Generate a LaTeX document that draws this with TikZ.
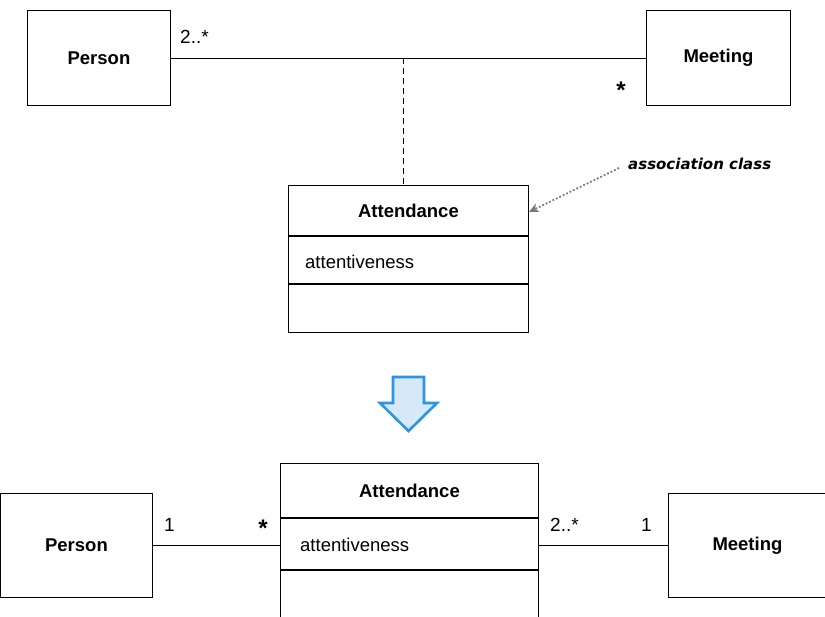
\documentclass[tikz,border=0pt]{standalone}
\usepackage{fontspec}
\setmainfont{Liberation Sans}
\newfontfamily\notefont{DejaVu Sans}
\usetikzlibrary{arrows.meta}
\definecolor{arrowblue}{HTML}{2B95E3}
\definecolor{arrowfill}{HTML}{D6E9F8}
\definecolor{notegray}{HTML}{7A7A7A}
\begin{document}
\begin{tikzpicture}[x=1pt,y=-1pt,
  every node/.style={font=\fontsize{18.5}{21}\selectfont},
  classbox/.style={draw, line width=0.9pt, anchor=north west, inner sep=0pt},
  cname/.style={font=\fontsize{18.5}{21}\selectfont\bfseries},
  compart/.style={draw, line width=0.9pt, anchor=north west, inner sep=0pt},
  mult/.style={font=\fontsize{19}{21}\selectfont, inner sep=0pt},
  star/.style={font=\fontsize{24}{24}\selectfont\bfseries, inner sep=0pt},
  assoc/.style={line width=0.8pt},
  note/.style={font=\notefont\fontsize{15}{17}\selectfont\itshape\bfseries, inner sep=0pt}
]
\clip (0,0) rectangle (825,617);
\fill[white] (0,0) rectangle (825,617);

% ---------- association class form ----------
\node[classbox, minimum width=143pt, minimum height=95pt, cname] (p1) at (27,10) {Person};
\node[classbox, minimum width=144pt, minimum height=95pt, cname] (m1) at (646,10) {Meeting};
\draw[assoc] (p1.east) -- (m1.west);
\coordinate (mid1) at (403,58);

\node[compart, minimum width=240pt, minimum height=50pt, cname] (a1h) at (288,185) {Attendance};
\node[compart, minimum width=240pt, minimum height=47pt] (a1a) at (a1h.south west) {};
\node[compart, minimum width=240pt, minimum height=48pt] (a1o) at (a1a.south west) {};
\node[anchor=west, inner sep=0pt] (a1t) at (305,262) {attentiveness};
\draw[assoc, dash pattern=on 6pt off 4pt] (mid1) -- (mid1 |- a1h.north);

\node[mult, anchor=base west] (p1m) at (180,44) {2..*};
\node[star, anchor=center] (m1m) at (621,90) {*};

% note pointing at the association class
\node[note, anchor=west] (nt) at (628,164) {association class};
\coordinate (ntend) at (619,168);
\draw[notegray, line width=1.8pt, dash pattern=on 1.8pt off 2pt,
  -{Stealth[length=10pt,width=9pt]}] (ntend) -- (a1h.east |- 0,212);

% ---------- transformation arrow ----------
\draw[arrowblue, fill=arrowfill, line width=2.6pt, line join=miter]
  (393,377) -- (424,377) -- (424,403) -- (437,403) -- (408.5,431)
  -- (380,403) -- (393,403) -- cycle;

% ---------- promoted class form ----------
\node[classbox, minimum width=152pt, minimum height=104pt, cname] (p2) at (0,493) {Person};
\node[classbox, minimum width=158pt, minimum height=104pt, cname] (m2) at (668,493) {Meeting};

\node[compart, minimum width=258pt, minimum height=54pt, cname] (a2h) at (280,463) {Attendance};
\node[compart, minimum width=258pt, minimum height=51pt] (a2a) at (a2h.south west) {};
\node[compart, minimum width=258pt, minimum height=60pt] (a2o) at (a2a.south west) {};
\node[anchor=west, inner sep=0pt] (a2t) at (300,545) {attentiveness};

\draw[assoc] (p2.east) -- (p2.east -| a2a.west);
\draw[assoc] (m2.west -| a2a.east) -- (m2.west);

\node[mult, anchor=base west] (p2m) at (164,531) {1};
\node[star, anchor=center] (a2ml) at (263,528) {*};
\node[mult, anchor=base west] (a2mr) at (550,531) {2..*};
\node[mult, anchor=base west] (m2m) at (641,531) {1};
\end{tikzpicture}
\end{document}
